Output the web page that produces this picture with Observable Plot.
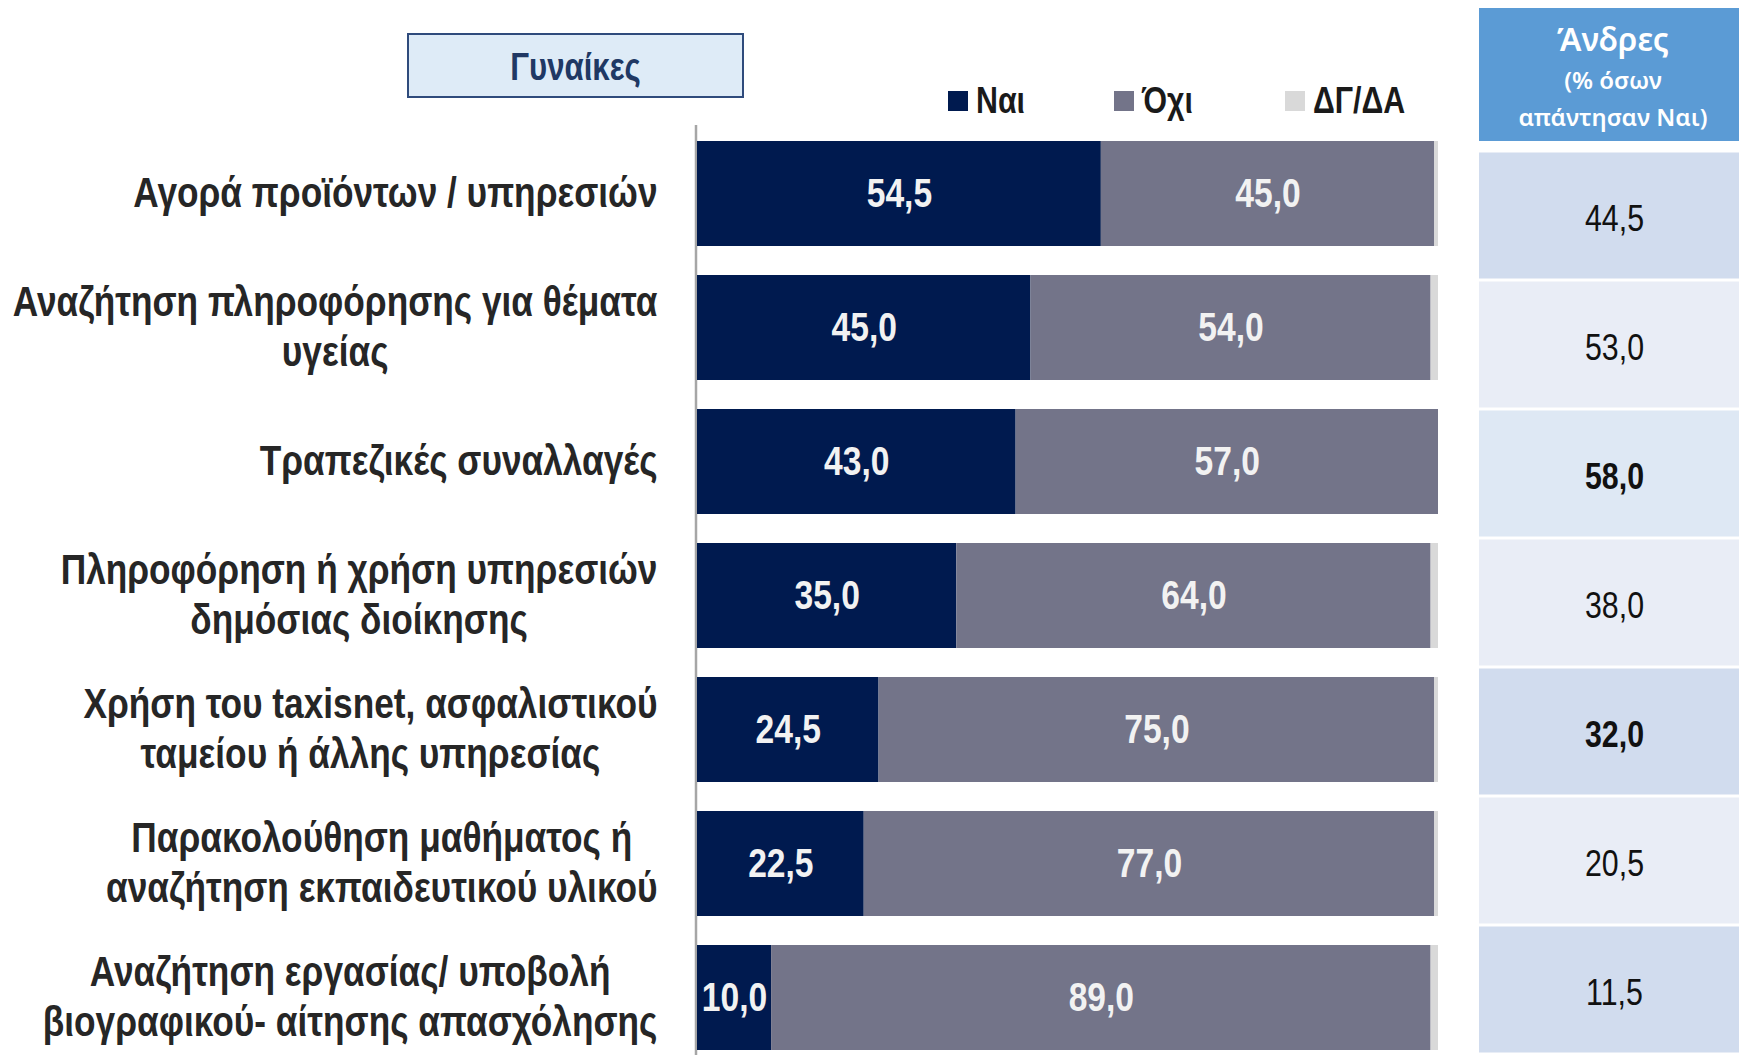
<!DOCTYPE html>
<html>
<head>
<meta charset="utf-8">
<script src="https://cdn.jsdelivr.net/npm/d3@7"></script>
<script src="https://cdn.jsdelivr.net/npm/@observablehq/plot@0.6"></script>
<style>
  html, body { margin: 0; padding: 0; background: #fff; }
  #wrap { position: relative; width: 1739px; height: 1055px; overflow: hidden; }
  .narrow { font-family: "Liberation Sans", Arial, sans-serif; }
  .sx { display: inline-block; transform: scaleX(0.82); }
  #title { position: absolute; left: 407px; top: 33px; width: 333px; height: 61px; background: #DEEBF7;
           border: 2px solid #2F4B7C; display: flex; align-items: center; justify-content: center;
           color: #203864; font-weight: bold; font-size: 38px; }
  #title .sx { transform-origin: center; position: relative; top: 2px; }
  .leg { position: absolute; top: 80px; height: 42px; display: flex; align-items: center;
         font-weight: bold; font-size: 37px; color: #1a1a1a; white-space: nowrap; }
  .leg .sx { transform-origin: left center; }
  .leg span.sw { display: inline-block; width: 20px; height: 20px; margin-right: 8px; }
  #men { position: absolute; left: 1479px; top: 0; }
  #menHead { position: absolute; left: 1479px; top: 8px; width: 260px; height: 133px; background: #5B9BD5;
             color: #fff; font-family: "Noto Sans", "Open Sans", sans-serif; text-align: center; }
  #menHead .l1 { position: absolute; left: 0; right: 0; top: 15px; font-size: 32px; font-weight: 600; line-height: 1; padding-left: 8px; }
  #menHead .l2 { position: absolute; left: 0; right: 0; top: 60px; font-size: 24px; font-weight: 600; line-height: 1; padding-left: 8px; }
  #menHead .l3 { position: absolute; left: 0; right: 0; top: 97px; font-size: 24px; font-weight: 600; line-height: 1; padding-left: 8px; }
</style>
</head>
<body>
<div id="wrap"></div>
<script>
// ---- data ----
const categories = [
  "Αγορά προϊόντων / υπηρεσιών",
  "Αναζήτηση πληροφόρησης για θέματα\nυγείας",
  "Τραπεζικές συναλλαγές",
  "Πληροφόρηση ή χρήση υπηρεσιών\nδημόσιας διοίκησης",
  "Χρήση του taxisnet, ασφαλιστικού\nταμείου ή άλλης υπηρεσίας",
  "Παρακολούθηση μαθήματος ή\nαναζήτηση εκπαιδευτικού υλικού",
  "Αναζήτηση εργασίας/ υποβολή\nβιογραφικού- αίτησης απασχόλησης"
];
const responses = ["Ναι", "Όχι", "ΔΓ/ΔΑ"];
const women_yes = [54.5, 45.0, 43.0, 35.0, 24.5, 22.5, 10.0];
const women_no  = [45.0, 54.0, 57.0, 64.0, 75.0, 77.0, 89.0];
const women_dk  = [0.5, 1.0, 0.0, 1.0, 0.5, 0.5, 1.0];
const men_yes   = [44.5, 53.0, 58.0, 38.0, 32.0, 20.5, 11.5];
const men_significant = [false, false, true, false, true, false, false];

const titleText = "Γυναίκες";
const menTitle = ["Άνδρες", "(% όσων", "απάντησαν Ναι)"];

// ---- styles ----
const colors = ["#001A4F", "#737489", "#D9D9D9"];
const menRowFills = ["#D1DCEE", "#E9EDF6", "#DEE8F4", "#E9EDF6", "#D1DCEE", "#E9EDF6", "#D1DCEE"];
const FONT = '"Liberation Sans", Arial, sans-serif';
const NARROW_SCALE = 0.82;

const fmt = v => d3.format(".1f")(v).replace(".", ",");

const long = [];
categories.forEach((c, i) => {
  long.push({cat: c, resp: responses[0], value: women_yes[i]});
  long.push({cat: c, resp: responses[1], value: women_no[i]});
  long.push({cat: c, resp: responses[2], value: women_dk[i]});
});
const men = categories.map((c, i) => ({cat: c, value: men_yes[i], sig: men_significant[i], fill: menRowFills[i]}));

const wrap = document.getElementById("wrap");

// title box
const t = document.createElement("div");
t.id = "title"; t.className = "narrow";
t.innerHTML = `<span class="sx">${titleText}</span>`;
wrap.appendChild(t);

// legend
const legLeft = [948, 1114, 1285];
responses.forEach((r, i) => {
  const d = document.createElement("div");
  d.className = "leg narrow";
  d.style.left = legLeft[i] + "px";
  d.innerHTML = `<span class="sw" style="background:${colors[i]}"></span><span class="sx">${r}</span>`;
  wrap.appendChild(d);
});

// main chart
const chart = Plot.plot({
  width: 1739,
  height: 1055,
  marginLeft: 697,
  marginRight: 301,
  marginTop: 125,
  marginBottom: 0,
  style: {fontFamily: FONT, background: "transparent"},
  x: {domain: [0, 100], axis: null},
  y: {domain: categories, axis: null, paddingInner: 0.22, paddingOuter: 0.0745, align: 0.75},
  color: {domain: responses, range: colors},
  marks: [
    Plot.ruleX([0], {stroke: "#A6A6A6", strokeWidth: 2.5, dx: -1.5}),
    Plot.barX(long, {x: "value", y: "cat", fill: "resp", order: responses}),
    Plot.text(long, Plot.stackX({
      x: "value", y: "cat", z: "resp", order: responses,
      filter: d => d.resp !== "ΔΓ/ΔΑ",
      text: d => fmt(d.value),
      fill: "#F2F2F2", fontWeight: "bold", fontSize: 41
    })),
    Plot.text(categories, {
      x: 0, y: d => d, text: d => d, textAnchor: "end", dx: -40, dy: -3,
      fill: "#262626", fontWeight: "bold", fontSize: 43, lineHeight: 1.16,
      ariaDescription: "cat-labels"
    })
  ]
});
chart.style.position = "absolute";
chart.style.left = "0px";
chart.style.top = "0px";
wrap.appendChild(chart);

// center lines of multi-line labels relative to each other (block right-aligned)
chart.querySelectorAll('g[aria-description="cat-labels"] text').forEach(txt => {
  const spans = txt.querySelectorAll("tspan");
  if (spans.length < 2) return;
  let W = 0;
  spans.forEach(s => { W = Math.max(W, s.getComputedTextLength()); });
  txt.setAttribute("text-anchor", "middle");
  spans.forEach(s => s.setAttribute("x", -W / 2));
});

// men table
const menPlot = Plot.plot({
  width: 260,
  height: 1055,
  marginLeft: 0, marginRight: 0, marginTop: 149, marginBottom: 0,
  style: {fontFamily: FONT, background: "transparent"},
  x: {axis: null},
  y: {domain: categories, axis: null, padding: 0},
  color: {type: "identity"},
  marks: [
    Plot.cell(men, {y: "cat", fill: "fill", insetTop: 1.5, insetBottom: 1.5}),
    Plot.text(men.filter(d => !d.sig), {y: "cat", text: d => fmt(d.value), fill: "#111", fontSize: 37, dx: 5, dy: 3}),
    Plot.text(men.filter(d => d.sig), {y: "cat", text: d => fmt(d.value), fill: "#111", fontSize: 37, fontWeight: "bold", dx: 5, dy: 3})
  ]
});
menPlot.id = "men";
wrap.appendChild(menPlot);

// condensed look (Arial Narrow style) for all chart texts
[chart, menPlot].forEach(svg => {
  svg.querySelectorAll("text").forEach(txt => {
    const tr = txt.getAttribute("transform") || "";
    txt.setAttribute("transform", `${tr} scale(${NARROW_SCALE},1)`);
  });
});

const head = document.createElement("div");
head.id = "menHead";
head.innerHTML = `<div class="l1">${menTitle[0]}</div><div class="l2">${menTitle[1]}</div><div class="l3">${menTitle[2]}</div>`;
wrap.appendChild(head);
</script>
</body>
</html>
